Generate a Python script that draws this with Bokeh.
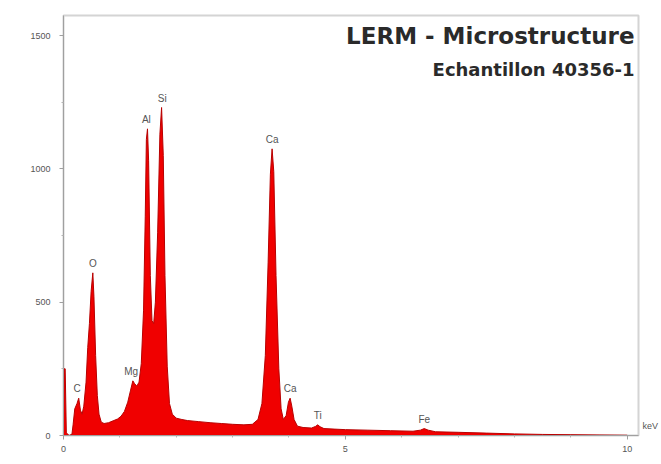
from bokeh.plotting import figure
from bokeh.models import (FixedTicker, Label, Range1d, ColumnDataSource,
                          LinearAxis)
from bokeh.core.properties import value
from bokeh.embed import file_html
from bokeh.resources import INLINE

# EDS spectrum: energy (keV) and counts along the outline of the spectrum
energy_kev = [0.00, 0.01, 0.03, 0.05, 0.10, 0.15, 0.17, 0.20, 0.24, 0.27,
              0.30, 0.33, 0.36, 0.40, 0.43, 0.46, 0.49, 0.52, 0.54, 0.57,
              0.60, 0.63, 0.67, 0.72, 0.80, 0.88, 0.96, 1.02, 1.08, 1.14,
              1.19, 1.23, 1.26, 1.30, 1.34, 1.38, 1.42, 1.45, 1.47, 1.49,
              1.51, 1.54, 1.57, 1.60, 1.63, 1.67, 1.71, 1.74, 1.77, 1.80,
              1.84, 1.88, 1.93, 2.00, 2.10, 2.20, 2.40, 2.60, 2.80, 3.00,
              3.20, 3.35, 3.45, 3.52, 3.58, 3.63, 3.67, 3.70, 3.73, 3.77,
              3.82, 3.86, 3.90, 3.95, 3.99, 4.02, 4.05, 4.09, 4.15, 4.25,
              4.40, 4.47, 4.51, 4.55, 4.62, 4.80, 5.00, 5.40, 5.80, 6.20,
              6.33, 6.40, 6.47, 6.60, 7.00, 7.50, 8.00, 8.50, 9.00, 9.50,
              10.00]
counts = [0, 250, 250, 10, 0, 5, 40, 100, 120, 140,
          95, 80, 110, 200, 330, 420, 540, 610, 520, 300,
          150, 80, 50, 45, 48, 55, 62, 72, 90, 125,
          170, 205, 195, 185, 200, 270, 470, 820, 1110, 1150,
          1030, 600, 430, 420, 500, 760, 1130, 1230, 1050, 600,
          260, 120, 80, 65, 60, 56, 52, 48, 45, 42,
          40, 42, 60, 120, 300, 650, 980, 1075, 990, 600,
          250, 100, 60, 75, 125, 140, 110, 60, 35, 30,
          28, 34, 40, 33, 26, 24, 22, 20, 18, 16,
          20, 26, 20, 14, 12, 9, 6, 4, 3, 2,
          1]

# Identified peaks
peak_labels = ["C", "O", "Mg", "Al", "Si", "Ca", "Ca", "Ti", "Fe"]
peak_energy = [0.24, 0.52, 1.20, 1.47, 1.75, 3.70, 4.02, 4.51, 6.40]
peak_counts = [140, 610, 205, 1150, 1230, 1075, 140, 40, 26]

y_ticks = [0, 500, 1000, 1500]
x_ticks = [0, 5, 10]
x_unit = "keV"

p = figure(width=661, height=464, output_backend="svg", toolbar_location=None,
           x_range=Range1d(0, 10.2), y_range=Range1d(0, 1575),
           min_border_left=63, min_border_right=21, min_border_top=15,
           min_border_bottom=29)

p.background_fill_color = "white"
p.border_fill_color = "white"
p.outline_line_color = "#d4d4d4"
p.outline_line_width = 2
p.xgrid.visible = False
p.ygrid.visible = False

# filled spectrum
p.varea(x=energy_kev, y1=0, y2=counts, fill_color="#f00000")
p.line(x=energy_kev, y=counts, line_color="#b80000", line_width=1)

# peak labels
src = ColumnDataSource(dict(x=peak_energy, y=peak_counts, t=peak_labels))
p.text(x="x", y="y", text="t", source=src, text_align="center",
       text_baseline="bottom", y_offset=-4, text_font=value("Liberation Sans"),
       text_font_size="10px", text_color="#555555")

# axes
for ax in (p.xaxis[0], p.yaxis[0]):
    ax.axis_line_color = "#a0a0a0"
    ax.major_tick_line_color = "#a0a0a0"
    ax.minor_tick_line_color = "#b5b5b5"
    ax.major_tick_out = 4
    ax.major_tick_in = 0
    ax.minor_tick_out = 2
    ax.minor_tick_in = 0
    ax.major_label_text_font = "Liberation Sans"
    ax.major_label_text_font_size = "9px"
    ax.major_label_text_color = "#555555"

p.yaxis.ticker = FixedTicker(ticks=y_ticks,
                             minor_ticks=[250, 750, 1250])
p.xaxis.ticker = FixedTicker(ticks=x_ticks,
                             minor_ticks=[1, 2, 3, 4, 6, 7, 8, 9])
p.xaxis.major_label_standoff = 6
p.yaxis.major_label_standoff = 9

# unit text just right of the energy axis end, drawn as a bare right axis label
unit_axis = LinearAxis(ticker=FixedTicker(ticks=[35], minor_ticks=[]),
                       major_label_overrides={35: x_unit},
                       axis_line_color=None, major_tick_line_color=None,
                       minor_tick_line_color=None, major_tick_out=0,
                       major_tick_in=0, minor_tick_out=0, minor_tick_in=0,
                       major_label_standoff=4,
                       major_label_text_font="Liberation Sans",
                       major_label_text_font_size="9px",
                       major_label_text_color="#555555")
p.add_layout(unit_axis, "right")

# header
p.add_layout(Label(x=10.2, y=1500, x_offset=-4, text="LERM - Microstructure",
                   text_font="DejaVu Sans", text_font_style="bold",
                   text_font_size="23px", text_color="#2a2a2a",
                   text_align="right", text_baseline="alphabetic"))
p.add_layout(Label(x=10.2, y=1372, x_offset=-4, text="Echantillon 40356-1",
                   text_font="DejaVu Sans", text_font_style="bold",
                   text_font_size="18px", text_color="#2a2a2a",
                   text_align="right", text_baseline="alphabetic"))

open("out.html", "w").write(file_html(p, INLINE))
